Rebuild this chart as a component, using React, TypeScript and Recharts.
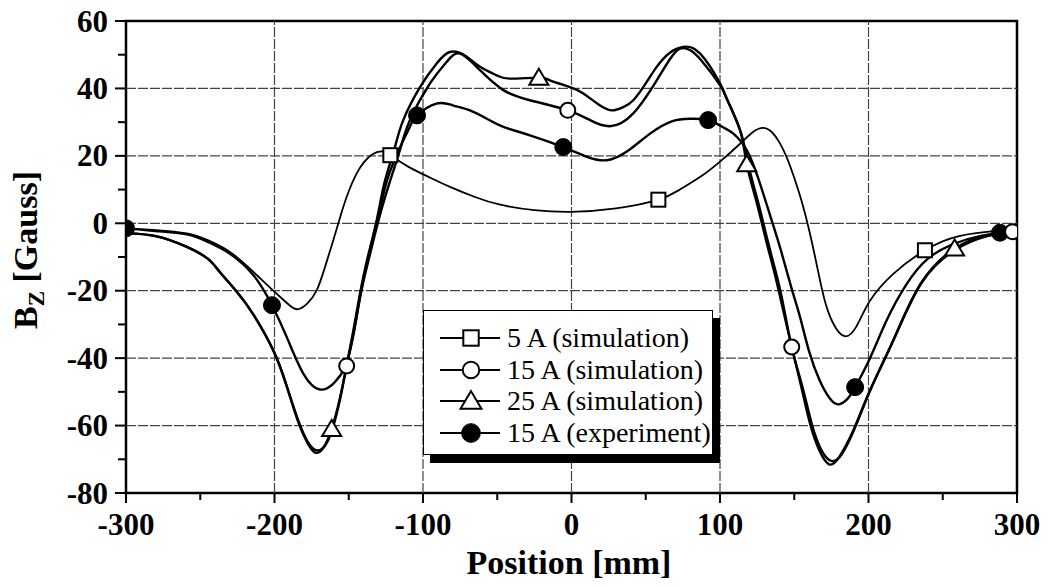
import { Legend, Line, LineChart, ReferenceArea, ReferenceLine, XAxis, YAxis } from "recharts";

const FONT = "'Liberation Serif', 'Times New Roman', serif";

// axis ticks (majors get labels + grid, the rest are minor ticks)
const xTicks = [-300, -250, -200, -150, -100, -50, 0, 50, 100, 150, 200, 250, 300];
const yTicks = [-80, -70, -60, -50, -40, -30, -20, -10, 0, 10, 20, 30, 40, 50, 60];
const xGrid = [-200, -100, 0, 100, 200];
const yGrid = [-60, -40, -20, 0, 20, 40];

const seriesNames = ["5 A (simulation)", "15 A (simulation)", "25 A (simulation)", "15 A (experiment)"];

// 5 A (simulation)
const fiveAX = [-300, -280, -259, -245, -230, -214, -201, -192, -185, -178, -171.6, -166, -160.4, -155, -150, -145, -140, -134, -128, -122, -110, -95, -81.8, -65, -48, -25, 0, 30, 58.5, 73, 86.5, 100, 113.5, 122, 129, 135, 140, 145, 150, 155, 160, 165, 170, 176, 184, 192, 201, 216.7, 238, 261, 288, 300];
const fiveAY = [-1.5, -2, -3, -5, -8.5, -14.5, -19.9, -23.5, -25.5, -23.8, -19.9, -13, -5, 3, 9.5, 14.5, 18, 20.5, 21.3, 20.2, 16.8, 13.5, 10.8, 7.8, 5.5, 3.9, 3.4, 4.4, 7, 10, 13.7, 18.3, 23.6, 27, 28.3, 27, 24, 19.5, 13.5, 6.5, -2, -12, -22, -29.5, -33.5, -30.5, -23, -15, -8, -3.8, -2.2, -1.8];
const fiveAMarks = [-122, 58.5, 238];

// 15 A (simulation)
const sim15X = [-300, -280, -259, -245, -236.7, -225, -214.3, -200.8, -192, -184, -178, -172, -166, -161, -156, -151.4, -146.5, -142, -137, -132.5, -128, -122, -115, -108.8, -95.3, -84, -75, -61.6, -45.9, -28, -2.5, 12.5, 25.9, 41.6, 57.4, 66, 73, 80, 88, 100, 105, 114, 119, 125.5, 132, 137, 142, 148.3, 155.5, 161.5, 168, 175, 182, 191, 202, 218, 236, 258, 280, 297, 300];
const sim15Y = [-3, -3.8, -7, -10.5, -14.5, -20.5, -27, -37.7, -48, -58.5, -64.5, -67.3, -66, -61, -52.5, -42.3, -32, -21, -11.5, -3.5, 4, 12.8, 22.5, 30.6, 41.5, 47.9, 50.3, 45.4, 39.5, 36.5, 33.5, 30.6, 28.8, 32.6, 42.4, 48.5, 51.8, 51.3, 48, 41, 36.5, 27, 17.5, 6.5, -5, -13.5, -22.8, -36.7, -48.5, -59, -67, -70.5, -68.5, -60.5, -48.7, -33.5, -17.5, -8, -3.8, -2.5, -2.4];
const sim15Marks = [-151.4, -2.5, 148.3, 297];

// 25 A (simulation)
const sim25X = [-300, -280, -259, -245, -236.7, -225, -214.3, -200.8, -192, -184, -178, -172.7, -167, -161.5, -156, -151.5, -147, -142.5, -138, -133.5, -129.5, -125.5, -119, -113.3, -102, -90.8, -82, -72, -61.6, -50, -41.4, -22, -14.5, -1, 8, 18, 27, 35, 41.6, 50, 57.4, 66, 75, 86.5, 100, 104.5, 113.5, 118, 124.5, 131, 136, 141, 148.3, 155, 160.6, 167, 173.5, 180, 189.8, 201, 216.7, 235, 258, 280, 300];
const sim25Y = [-3, -3.8, -7, -10.5, -14.5, -20.5, -27, -37.7, -48, -59, -65, -68, -66.5, -61, -52, -42.3, -32, -21, -11.5, -3.5, 4.5, 12.8, 22.5, 30.6, 40.4, 47.4, 50.8, 49.8, 46.4, 43.8, 42.9, 43.2, 42.4, 40.4, 38.5, 35.3, 33.5, 34.5, 36.5, 41.5, 46.4, 50.5, 52.3, 50.4, 41.5, 37, 27.6, 17.5, 6.5, -5, -13.5, -22.8, -36.7, -49, -59.4, -67.5, -71.5, -69.5, -61.4, -49.6, -34.7, -18, -7.5, -3.6, -2.3];
const sim25Marks = [-161.5, -22, 118, 258];

// 15 A (experiment)
const expX = [-300, -280, -259, -245, -230, -214, -201.7, -191.8, -180.6, -169.5, -160.5, -155.5, -151, -146, -142, -137.5, -133, -128.5, -124, -116, -109, -104, -91, -80, -68.4, -57, -45.9, -28, -5.5, 10, 23.7, 38, 52.9, 68, 80, 92, 102, 109, 118, 126, 134, 141, 148, 154, 160, 167, 174, 180, 186, 191, 201, 212, 225, 240, 258, 275, 288.5, 300];
const expY = [-1.5, -2.3, -3.3, -5.5, -9, -15.5, -24.3, -33.7, -44.6, -49.3, -47.6, -45, -41, -31, -21, -11.5, -3, 5, 13, 22, 28.5, 32, 35.5, 35, 33.5, 31, 28.6, 26.1, 22.6, 19.8, 18.7, 21.5, 26.6, 30.3, 31, 30.6, 28.5, 26.6, 21.7, 13, 2, -8, -19, -28, -38, -46.5, -52, -53.7, -52, -48.6, -40, -29, -18.5, -10.5, -6, -3.8, -2.8, -2];
const expMarks = [-300, -201.7, -104, -5.5, 92, 191, 288.5];

type Kind = "square" | "circle" | "triangle" | "dot";

const build = (xs: number[], ys: number[], marks: number[]) =>
  xs.map((x, i) => ({ x, y: ys[i], m: marks.includes(x) }));

const fiveAData = build(fiveAX, fiveAY, fiveAMarks);
const sim15Data = build(sim15X, sim15Y, sim15Marks);
const sim25Data = build(sim25X, sim25Y, sim25Marks);
const expData = build(expX, expY, expMarks);

function Marker({ kind, cx, cy, s = 1 }: { kind: Kind; cx: number; cy: number; s?: number }) {
  if (kind === "square") {
    const h = 7 * s;
    return <rect x={cx - h} y={cy - h} width={2 * h} height={2 * h} fill="#fff" stroke="#000" strokeWidth={2} />;
  }
  if (kind === "circle") return <circle cx={cx} cy={cy} r={7.5 * s} fill="#fff" stroke="#000" strokeWidth={2} />;
  if (kind === "dot") return <circle cx={cx} cy={cy} r={8.5 * s} fill="#000" stroke="#000" strokeWidth={1} />;
  const w = 9.5 * s;
  const pts = `${cx},${cy - 9 * s} ${cx - w},${cy + 7 * s} ${cx + w},${cy + 7 * s}`;
  return <polygon points={pts} fill="#fff" stroke="#000" strokeWidth={2} strokeLinejoin="miter" />;
}

const dotFor = (kind: Kind) => (p: any) => {
  if (!p.payload || !p.payload.m) return <g key={`n-${kind}-${p.index}`} />;
  return (
    <g key={`m-${kind}-${p.index}`}>
      <Marker kind={kind} cx={p.cx} cy={p.cy} />
    </g>
  );
};

function XTick(props: any) {
  const { x, y, payload } = props;
  const major = payload.value % 100 === 0;
  return (
    <g>
      <line x1={x} x2={x} y1={y} y2={y + (major ? 10 : 7)} stroke="#000" strokeWidth={2} />
      {major && (
        <text x={x} y={y + 42} textAnchor="middle" fontFamily={FONT} fontWeight="bold" fontSize={31} fill="#000">
          {String(payload.value)}
        </text>
      )}
    </g>
  );
}

function YTick(props: any) {
  const { x, y, payload } = props;
  const major = payload.value % 20 === 0;
  return (
    <g>
      <line x1={x} x2={x - (major ? 11 : 8)} y1={y} y2={y} stroke="#000" strokeWidth={2} />
      {major && (
        <text x={x - 18} y={y + 10.5} textAnchor="end" fontFamily={FONT} fontWeight="bold" fontSize={31} fill="#000">
          {String(payload.value)}
        </text>
      )}
    </g>
  );
}

const legendKinds: Kind[] = ["square", "circle", "triangle", "dot"];

function LegendBox() {
  return (
    <div
      style={{
        width: 290,
        height: 145,
        boxSizing: "border-box",
        border: "1px solid #000",
        background: "#fff",
        boxShadow: "7px 8px 0 #000",
        paddingTop: 11,
        fontFamily: FONT,
        fontSize: 28,
        color: "#000",
      }}
    >
      {seriesNames.map((name, i) => (
        <div key={name} style={{ display: "flex", alignItems: "center", height: 31.7 }}>
          <svg width={83} height={30} style={{ flex: "none" }}>
            <line x1={16} x2={76} y1={15} y2={15} stroke="#000" strokeWidth={2} />
            <Marker kind={legendKinds[i]} cx={47} cy={15} s={1.1} />
          </svg>
          <span style={{ whiteSpace: "nowrap", lineHeight: "30px" }}>{name}</span>
        </div>
      ))}
    </div>
  );
}

export default function App() {
  return (
    <div style={{ position: "relative", top: -10, width: 1034, height: 590 }}>
      <LineChart width={1034} height={590} margin={{ top: 23, right: 25, bottom: 35, left: 0 }}>
        <XAxis
          type="number"
          dataKey="x"
          domain={[-300, 300]}
          ticks={xTicks}
          interval={0}
          tick={XTick}
          tickLine={false}
          axisLine={false}
          tickSize={0}
          tickMargin={0}
          height={60}
          allowDataOverflow
        />
        <YAxis
          type="number"
          domain={[-80, 60]}
          ticks={yTicks}
          interval={0}
          tick={YTick}
          tickLine={false}
          axisLine={false}
          tickSize={0}
          tickMargin={0}
          width={118}
          allowDataOverflow
        />
        {xGrid.map((v) => (
          <ReferenceLine key={`gx${v}`} x={v} stroke="#444" strokeWidth={1.2} strokeDasharray="10 2" />
        ))}
        {yGrid.map((v) => (
          <ReferenceLine key={`gy${v}`} y={v} stroke="#444" strokeWidth={1.2} strokeDasharray="10 2" />
        ))}
        <ReferenceArea x1={-300} x2={300} y1={-80} y2={60} fill="none" stroke="#000" strokeWidth={2.5} />
        <Line data={fiveAData} dataKey="y" name={seriesNames[0]} type="natural" stroke="#000" strokeWidth={1.8} dot={dotFor("square")} activeDot={false} isAnimationActive={false} />
        <Line data={expData} dataKey="y" name={seriesNames[3]} type="natural" stroke="#000" strokeWidth={2.4} dot={dotFor("dot")} activeDot={false} isAnimationActive={false} />
        <Line data={sim15Data} dataKey="y" name={seriesNames[1]} type="natural" stroke="#000" strokeWidth={2.4} dot={dotFor("circle")} activeDot={false} isAnimationActive={false} />
        <Line data={sim25Data} dataKey="y" name={seriesNames[2]} type="natural" stroke="#000" strokeWidth={2.4} dot={dotFor("triangle")} activeDot={false} isAnimationActive={false} />
        <Legend
          layout="vertical"
          align="center"
          verticalAlign="middle"
          content={() => <LegendBox />}
          wrapperStyle={{ left: 415, top: 312, width: 290, height: 145 }}
        />
      </LineChart>
      <svg width={1034} height={590} style={{ position: "absolute", left: 0, top: 0, pointerEvents: "none", overflow: "visible" }}>
        <text x={561} y={576} textAnchor="middle" fontFamily={FONT} fontWeight="bold" fontSize={34} fill="#000">
          Position [mm]
        </text>
        <text transform="translate(29,252) rotate(-90)" textAnchor="middle" fontFamily={FONT} fontWeight="bold" fontSize={34} fill="#000">
          B
          <tspan fontSize={23} dy={7}>Z</tspan>
          <tspan dy={-7}> [Gauss]</tspan>
        </text>
      </svg>
    </div>
  );
}
